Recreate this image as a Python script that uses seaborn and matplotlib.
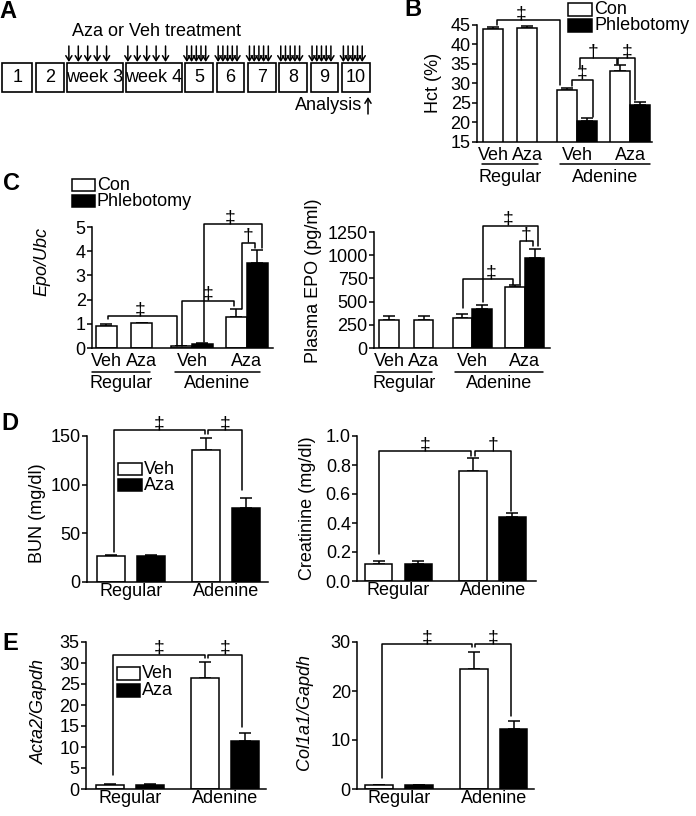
import numpy as np
import pandas as pd
import matplotlib
matplotlib.use("Agg")
import matplotlib.pyplot as plt
from matplotlib.patches import Rectangle
from matplotlib.ticker import FormatStrFormatter
from matplotlib.transforms import Affine2D, blended_transform_factory
import seaborn as sns

sns.set_style("ticks")
plt.rcParams["font.family"] = ["Liberation Sans", "DejaVu Sans"]
plt.rcParams.update({"axes.edgecolor": "black", "xtick.color": "black",
                     "ytick.color": "black", "text.color": "black"})
FS = 13

# ---------------- data ----------------
# A: treatment schedule
weeks = ["1", "2", "week 3", "week 4", "5", "6", "7", "8", "9", "10"]
week_span = [1.1, 1, 2, 2, 1, 1, 1, 1, 1, 1]
doses = [0, 0, 5, 5, 5, 5, 5, 5, 5, 5]

# B: Hct (%)  regular = Veh, Aza (Con only); adenine = Veh, Aza
hct_reg = [44.0, 44.2]
hct_reg_err = [0.5, 0.5]
hct_ad_con = [28.3, 33.3]
hct_ad_con_err = [0.6, 1.3]
hct_ad_phl = [20.3, 24.5]
hct_ad_phl_err = [0.7, 0.8]

# C: Epo/Ubc
epo_reg = [0.9, 1.02]
epo_reg_err = [0.1, 0.03]
epo_ad_con = [0.07, 1.3]
epo_ad_con_err = [0.02, 0.3]
epo_ad_phl = [0.17, 3.5]
epo_ad_phl_err = [0.05, 0.55]

# C: plasma EPO (pg/ml)
pepo_reg = [300, 300]
pepo_reg_err = [40, 40]
pepo_ad_con = [328, 654]
pepo_ad_con_err = [40, 22]
pepo_ad_phl = [418, 975]
pepo_ad_phl_err = [40, 90]

# D / E: Regular, Adenine
diets = ["Regular", "Adenine"]
treatments = ["Veh", "Aza"]
bun_veh, bun_veh_err = [27, 136], [1, 12]
bun_aza, bun_aza_err = [27, 76], [1, 10]
cre_veh, cre_veh_err = [0.12, 0.76], [0.015, 0.09]
cre_aza, cre_aza_err = [0.12, 0.44], [0.015, 0.03]
acta_veh, acta_veh_err = [1.0, 26.4], [0.1, 3.9]
acta_aza, acta_aza_err = [1.0, 11.5], [0.1, 1.9]
col_veh, col_veh_err = [0.8, 24.5], [0.1, 3.5]
col_aza, col_aza_err = [0.8, 12.2], [0.1, 1.6]

# ---------------- helpers ----------------
W, H = 696, 816
fig = plt.figure(figsize=(W / 100, H / 100), dpi=100)
PX = Affine2D().scale(1 / W, -1 / H).translate(0, 1) + fig.transFigure


def add_ax(l, t, r, b):
    return fig.add_axes([l / W, 1 - b / H, (r - l) / W, (b - t) / H])


def style(ax, ylim, yticks):
    ax.set_ylim(*ylim)
    ax.set_yticks(yticks)
    sns.despine(ax=ax)
    for s in ("left", "bottom"):
        ax.spines[s].set_linewidth(1.1)
    ax.tick_params(axis="y", length=3.5, width=1.1, pad=1, labelsize=FS)
    ax.tick_params(axis="x", length=0, pad=1, labelsize=FS)
    ax.set_xlabel("")
    ax.set_ylabel("")


def errbars(ax, x, h, err):
    ax.errorbar(x, h, yerr=[np.zeros(len(err)), err], fmt="none", ecolor="black",
                elinewidth=1.1, capsize=4.5, capthick=1.1, zorder=1)


def bars(ax, x, h, err, color):
    ax.bar(x, h, width=1.0, color=color, edgecolor="black", linewidth=1.1, zorder=2)
    errbars(ax, x, h, err)


def bracket(ax, x1, x2, y, y1, y2, sym, sx=None):
    ax.plot([x1, x1, x2, x2], [y1, y, y, y2], color="black", lw=1.1,
            clip_on=False, zorder=3)
    ax.annotate(sym, xy=((x1 + x2) / 2 if sx is None else sx, y), xytext=(0, -1.5),
                textcoords="offset points", ha="center", va="bottom", fontsize=14,
                annotation_clip=False)


def group_labels(ax, sub_x, lines, sub_y, line_y, name_y):
    tr = blended_transform_factory(ax.transData, PX)
    for x, s in zip(sub_x, treatments * 2):
        ax.text(x, sub_y, s, transform=tr, ha="center", va="center", fontsize=FS)
    for (x1, x2), name in zip(lines, diets):
        ax.plot([x1, x2], [line_y, line_y], transform=tr, color="black", lw=1.1,
                clip_on=False)
        ax.text((x1 + x2) / 2, name_y, name, transform=tr, ha="center",
                va="center", fontsize=FS)


def legend_boxes(x, y, labels, pitch, bw=24, bh=12):
    for i, (lab, col) in enumerate(zip(labels, ["white", "black"])):
        fig.patches.append(Rectangle((x, y + i * pitch), bw, bh, transform=PX,
                                     facecolor=col, edgecolor="black", lw=1.1,
                                     figure=fig))
        fig.text(x + bw + 2, y + i * pitch + bh / 2, lab, transform=PX,
                 ha="left", va="center", fontsize=FS)


def ylab(x, y, s, italic=False):
    fig.text(x, y, s, transform=PX, rotation=90, ha="center", va="center",
             fontsize=FS, style="italic" if italic else "normal")


def letter(x, y, s):
    fig.text(x, y, s, transform=PX, ha="center", va="center", fontsize=17,
             fontweight="bold")


def treat_panel(ax, veh, aza, veh_err, aza_err):
    df = pd.DataFrame({"diet": diets * 2,
                       "treat": ["Veh"] * 2 + ["Aza"] * 2,
                       "val": veh + aza})
    sns.barplot(data=df, x="diet", y="val", hue="treat", order=diets,
                hue_order=treatments, palette={"Veh": "white", "Aza": "black"},
                edgecolor="black", linewidth=1.1, width=0.84, gap=0.31,
                errorbar=None, legend=False, ax=ax, zorder=2)
    for cont, err in zip(ax.containers, [veh_err, aza_err]):
        pts = sorted((p.get_x() + p.get_width() / 2, p.get_height()) for p in cont)
        errbars(ax, [p[0] for p in pts], [p[1] for p in pts], err)


# ---------------- A: schedule ----------------
axA = add_ax(0, 40, 380, 118)
axA.set_xlim(0, 380)
axA.set_ylim(118, 40)
axA.axis("off")
unit, gap, x = 27.7, 3.6, 2.0
for lab, span, n in zip(weeks, week_span, doses):
    w = span * unit
    axA.add_patch(Rectangle((x, 63), w, 29, fill=False, lw=1.2, ec="black"))
    axA.text(x + w / 2, 78, lab, ha="center", va="center", fontsize=FS)
    step = 0.17 * w
    for k in range(n):
        ax_x = x + 1.5 + k * step
        axA.annotate("", xy=(ax_x, 62), xytext=(ax_x, 46),
                     arrowprops=dict(arrowstyle="->,head_length=0.35,head_width=0.22",
                                     lw=1.1, color="black", shrinkA=0, shrinkB=0))
    x += w + gap
axA.text(72, 31, "Aza or Veh treatment", ha="left", va="center", fontsize=FS)
axA.text(362, 105, "Analysis", ha="right", va="center", fontsize=FS)
axA.annotate("", xy=(368, 97), xytext=(368, 114),
             arrowprops=dict(arrowstyle="->,head_length=0.35,head_width=0.22",
                             lw=1.1, color="black", shrinkA=0, shrinkB=0))

# ---------------- B: Hct ----------------
axB = add_ax(477, 25, 652, 141.7)
reg_x = np.array([0.8, 2.5])
ad_x = np.array([5.0, 7.65])
bars(axB, reg_x, hct_reg, hct_reg_err, "white")
bars(axB, ad_x - 0.5, hct_ad_con, hct_ad_con_err, "white")
bars(axB, ad_x + 0.5, hct_ad_phl, hct_ad_phl_err, "black")
axB.set_xlim(0, 8.75)
style(axB, (15, 45), range(15, 46, 5))
axB.set_xticks([])
bracket(axB, 1.0, 4.15, 46.3, 44.9, 29.6, "\u2021", sx=2.2)
bracket(axB, 4.73, 5.78, 30.9, 29.3, 21.4, "\u2021")
bracket(axB, 5.15, 6.98, 36.4, 34.0, 34.9, "\u2020", sx=5.78)
bracket(axB, 7.07, 7.9, 36.4, 34.9, 25.7, "\u2021")
group_labels(axB, [0.8, 2.5, 5.0, 7.65], [(0.25, 3.05), (4.15, 8.65)], 155, 164, 178)
legend_boxes(568, 3, ["Con", "Phlebotomy"], 16, bh=13)
ylab(433, 83, "Hct (%)")

# ---------------- C: Epo/Ubc ----------------
axC1 = add_ax(92, 227, 273, 348)
reg_x = np.array([0.67, 2.36])
ad_x = np.array([4.76, 7.38])
bars(axC1, reg_x, epo_reg, epo_reg_err, "white")
bars(axC1, ad_x - 0.5, epo_ad_con, epo_ad_con_err, "white")
bars(axC1, ad_x + 0.5, epo_ad_phl, epo_ad_phl_err, "black")
axC1.set_xlim(0, 8.62)
style(axC1, (0, 5), range(0, 6))
axC1.set_xticks([])
bracket(axC1, 0.76, 4.05, 1.32, 1.19, 0.1, "\u2021", sx=2.3)
bracket(axC1, 4.29, 6.76, 1.95, 0.1, 1.72, "\u2021")
bracket(axC1, 5.33, 8.1, 5.12, 0.25, 4.12, "\u2021", sx=6.6)
bracket(axC1, 7.14, 7.76, 4.35, 1.62, 4.12, "\u2020")
group_labels(axC1, [0.67, 2.36, 4.76, 7.38], [(0.0, 2.76), (3.95, 8.0)], 362, 372, 384)
legend_boxes(72, 179, ["Con", "Phlebotomy"], 16, bw=23)
ylab(42, 261, "Epo/Ubc", italic=True)

# ---------------- C: plasma EPO ----------------
axC2 = add_ax(374, 232, 550, 348)
reg_x = np.array([0.77, 2.54])
ad_x = np.array([5.03, 7.74])
bars(axC2, reg_x, pepo_reg, pepo_reg_err, "white")
bars(axC2, ad_x - 0.5, pepo_ad_con, pepo_ad_con_err, "white")
bars(axC2, ad_x + 0.5, pepo_ad_phl, pepo_ad_phl_err, "black")
axC2.set_xlim(0, 9.03)
style(axC2, (0, 1250), range(0, 1251, 250))
axC2.set_xticks([])
bracket(axC2, 4.56, 7.14, 744, 426, 683, "\u2021", sx=6.0)
bracket(axC2, 5.6, 8.43, 1320, 497, 1095, "\u2021", sx=6.9)
bracket(axC2, 7.49, 8.14, 1148, 687, 1095, "\u2020")
group_labels(axC2, [0.77, 2.54, 5.03, 7.74], [(0.15, 2.97), (4.15, 8.67)], 362, 372, 384)
ylab(314, 281, "Plasma EPO (pg/ml)")

# ---------------- D: BUN / creatinine ----------------
axD1 = add_ax(87, 436, 268, 582)
treat_panel(axD1, bun_veh, bun_aza, bun_veh_err, bun_aza_err)
axD1.set_xlim(-0.463, 1.442)
style(axD1, (0, 150), [0, 50, 100, 150])
bracket(axD1, -0.18, 0.78, 156, 31, 152, "\u2021")
bracket(axD1, 0.81, 1.17, 156, 152, 94.5, "\u2021")
legend_boxes(118, 463, treatments, 16)
ylab(38, 513, "BUN (mg/dl)")

axD2 = add_ax(357, 436, 536, 581)
treat_panel(axD2, cre_veh, cre_aza, cre_veh_err, cre_aza_err)
axD2.set_xlim(-0.44, 1.46)
style(axD2, (0, 1.0), np.arange(0, 1.01, 0.2))
axD2.yaxis.set_major_formatter(FormatStrFormatter("%.1f"))
bracket(axD2, -0.207, 0.77, 0.897, 0.186, 0.86, "\u2021")
bracket(axD2, 0.81, 1.19, 0.897, 0.86, 0.483, "\u2020")
ylab(308, 508, "Creatinine (mg/dl)")

# ---------------- E: Acta2 / Col1a1 ----------------
axE1 = add_ax(86, 642, 266, 789)
treat_panel(axE1, acta_veh, acta_aza, acta_veh_err, acta_aza_err)
axE1.set_xlim(-0.463, 1.432)
style(axE1, (0, 35), range(0, 36, 5))
bracket(axE1, -0.18, 0.79, 32.0, 3.34, 31.2, "\u2021")
bracket(axE1, 0.82, 1.18, 32.0, 31.2, 14.8, "\u2021")
legend_boxes(117, 667, treatments, 17, bw=23, bh=13)
ylab(39, 712, "Acta2/Gapdh", italic=True)

axE2 = add_ax(357, 642, 534, 789)
treat_panel(axE2, col_veh, col_aza, col_veh_err, col_aza_err)
axE2.set_xlim(-0.443, 1.425)
style(axE2, (0, 30), [0, 10, 20, 30])
bracket(axE2, -0.18, 0.77, 29.6, 2.24, 28.9, "\u2021")
bracket(axE2, 0.80, 1.18, 29.6, 28.9, 14.9, "\u2021")
ylab(305, 712, "Col1a1/Gapdh", italic=True)

letter(8, 11, "A")
letter(413, 10, "B")
letter(12, 184, "C")
letter(10, 423, "D")
letter(10, 643, "E")

fig.savefig("out.png", dpi=100)
